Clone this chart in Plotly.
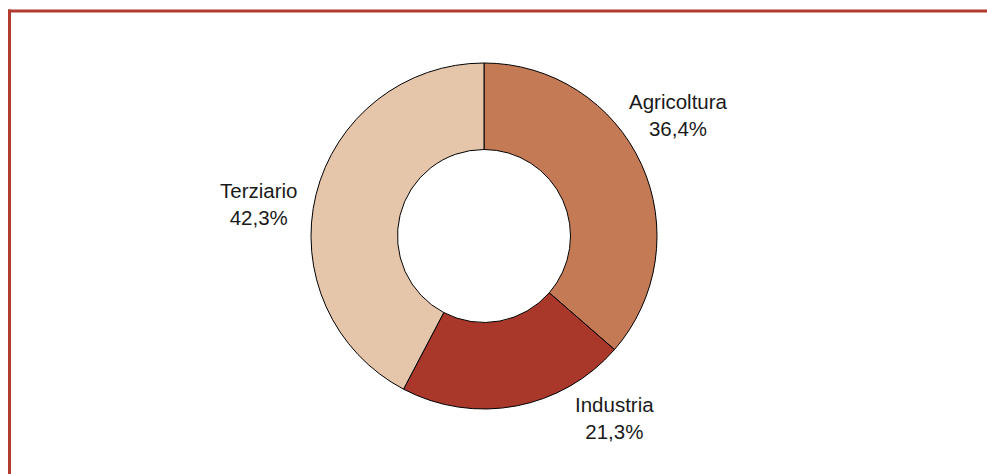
import plotly.graph_objects as go

# Composizione per settore
settori = ["Agricoltura", "Industria", "Terziario"]
quote = [36.4, 21.3, 42.3]
colori = ["#C47A55", "#A9382B", "#E6C6AB"]

W, H = 987, 474
cx, cy, r = 484, 236, 173

# posizione (in pixel) del centro di ciascuna etichetta
pos_etichette = {
    "Agricoltura": (678, 115),
    "Industria": (614, 418),
    "Terziario": (258, 204),
}

etichette = [f"{s}<br>{str(q).replace('.', ',')}%" for s, q in zip(settori, quote)]

fig = go.Figure(
    go.Pie(
        labels=settori,
        values=quote,
        textinfo="none",
        hoverinfo="label+percent",
        hole=0.5,
        sort=False,
        direction="clockwise",
        rotation=0,
        marker=dict(colors=colori, line=dict(color="#000000", width=1)),
        domain=dict(x=[(cx - r) / W, (cx + r) / W], y=[1 - (cy + r) / H, 1 - (cy - r) / H]),
        showlegend=False,
    )
)

for s, testo in zip(settori, etichette):
    px, py = pos_etichette[s]
    fig.add_annotation(
        x=px / W, y=1 - py / H, xref="paper", yref="paper",
        text=testo, showarrow=False, xanchor="center", yanchor="middle", align="center",
        font=dict(family="Liberation Sans, Arial, sans-serif", size=20.5, color="#1a1a1a"),
    )

bordo = "#B23B2F"
fig.update_layout(
    width=W,
    height=H,
    margin=dict(l=0, r=0, t=0, b=0),
    paper_bgcolor="white",
    plot_bgcolor="white",
    shapes=[
        dict(type="line", xref="paper", yref="paper", x0=8 / W, x1=1, y0=1 - 11 / H, y1=1 - 11 / H,
             line=dict(color=bordo, width=3)),
        dict(type="line", xref="paper", yref="paper", x0=9.5 / W, x1=9.5 / W, y0=0, y1=1 - 9.5 / H,
             line=dict(color=bordo, width=3)),
    ],
)

fig.write_html("out.html")
